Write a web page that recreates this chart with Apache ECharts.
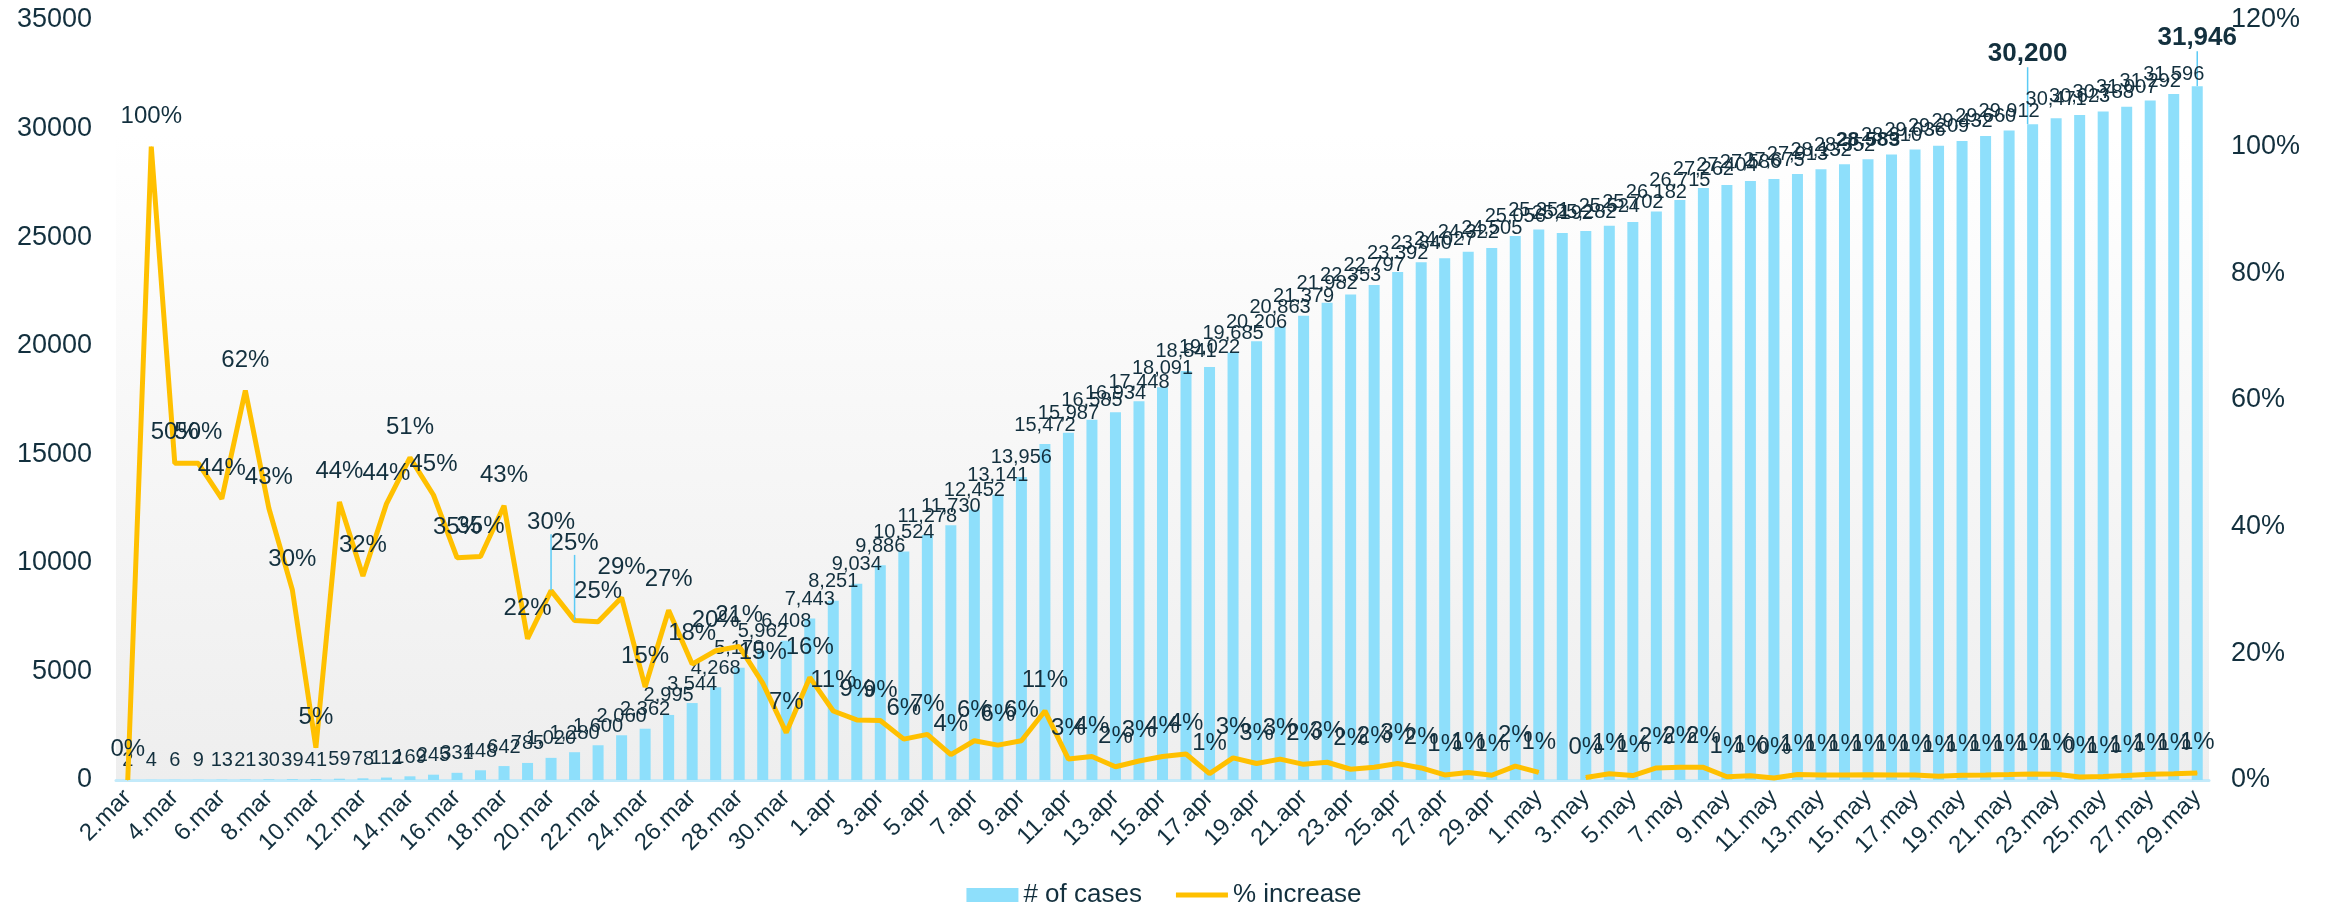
<!DOCTYPE html>
<html>
<head>
<meta charset="utf-8">
<script src="https://cdn.jsdelivr.net/npm/echarts@6/dist/echarts.min.js"></script>
<style>
html,body{margin:0;padding:0;background:#fff;}
#chart{width:2328px;height:913px;}
</style>
</head>
<body>
<div id="chart"></div>
<script>
const dates = [
 '2.mar','3.mar','4.mar','5.mar','6.mar','7.mar','8.mar','9.mar','10.mar','11.mar','12.mar','13.mar','14.mar','15.mar','16.mar','17.mar','18.mar','19.mar','20.mar','21.mar','22.mar','23.mar','24.mar','25.mar','26.mar','27.mar','28.mar','29.mar','30.mar','31.mar',
 '1.apr','2.apr','3.apr','4.apr','5.apr','6.apr','7.apr','8.apr','9.apr','10.apr','11.apr','12.apr','13.apr','14.apr','15.apr','16.apr','17.apr','18.apr','19.apr','20.apr','21.apr','22.apr','23.apr','24.apr','25.apr','26.apr','27.apr','28.apr','29.apr','30.apr',
 '1.may','2.may','3.may','4.may','5.may','6.may','7.may','8.may','9.may','10.may','11.may','12.may','13.may','14.may','15.may','16.may','17.may','18.may','19.may','20.may','21.may','22.may','23.may','24.may','25.may','26.may','27.may','28.may','29.may'
];
const cases = [
 2,4,6,9,13,21,30,39,41,59,78,112,169,245,331,448,642,785,1020,1280,1600,2060,2362,2995,3544,4268,5170,5962,6408,7443,
 8251,9034,9886,10524,11278,11730,12452,13141,13956,15472,15987,16585,16934,17448,18091,18841,19022,19685,20206,20863,21379,21982,22353,22797,23392,23840,24027,24322,24505,25056,
 25351,25192,25282,25524,25702,26182,26715,27262,27404,27586,27675,27913,28132,28352,28583,28810,29036,29209,29432,29660,29912,30200,30471,30623,30788,31007,31292,31596,31946
];
const increase = [
 0,1.0,0.5,0.5,0.444,0.615,0.429,0.300,0.051,0.439,0.322,0.436,0.509,0.450,0.351,0.353,0.433,0.223,0.299,0.252,0.250,0.288,0.147,0.268,0.183,0.204,0.211,0.153,0.0748,0.162,
 0.109,0.0949,0.094,0.0645,0.072,0.040,0.062,0.055,0.062,0.109,0.033,0.037,0.021,0.030,0.037,0.041,0.010,0.0349,0.026,0.033,0.0247,0.028,0.017,0.020,0.026,0.019,0.008,0.012,0.0075,0.022,
 0.012,null,0.004,0.010,0.007,0.019,0.020,0.020,0.0052,0.0066,0.0032,0.0086,0.0078,0.0078,0.0081,0.0079,0.0078,0.0060,0.0076,0.0077,0.0085,0.0096,0.0090,0.0049,0.0054,0.0071,0.0092,0.0097,0.0111
];
const leftTicks = {min:0, max:35000, interval:5000};
const rightTicks = {min:0, max:1.2, interval:0.2};

const textColor = '#13303e';
const leaderColor = '#5ccbf5';
const font = 'Liberation Sans';

const barData = cases.map((v,i)=>{
  if (i===81 || i===88) return {value:v, label:{fontWeight:'bold', fontSize:26}, labelLine:{show:true}};
  if (i===74) return {value:v, label:{fontWeight:'bold', fontSize:21}};
  return v;
});
const lineData = increase.map((v,i)=>{
  if (i===18 || i===19) return {value:v, labelLine:{show:true}};
  return v;
});

const chart = echarts.init(document.getElementById('chart'), null, {renderer:'canvas'});
chart.setOption({
  animation:false,
  backgroundColor:'#ffffff',
  textStyle:{fontFamily:font},
  grid:{
    left:116, right:119, top:20, bottom:133, show:true, borderWidth:0,
    backgroundColor:new echarts.graphic.LinearGradient(0,0,0,1,[
      {offset:0,color:'#ffffff'},{offset:0.15,color:'#ffffff'},{offset:1,color:'#eeeeee'}
    ])
  },
  legend:{
    bottom:0, left:'center', itemWidth:52, itemHeight:14, itemGap:34,
    textStyle:{fontSize:26, color:textColor, fontFamily:font},
    data:[
      {name:'# of cases', icon:'rect'},
      {name:'% increase', icon:'path://M0,0L52,0L52,5L0,5Z'}
    ]
  },
  xAxis:{
    type:'category', data:dates,
    axisTick:{show:false},
    axisLine:{lineStyle:{color:'#c3eafa', width:3}},
    axisLabel:{rotate:45, interval:1, fontSize:24, color:textColor, margin:14, fontFamily:font}
  },
  yAxis:[
    {type:'value', min:leftTicks.min, max:leftTicks.max, interval:leftTicks.interval,
     splitLine:{show:false}, axisLine:{show:false}, axisTick:{show:false},
     axisLabel:{fontSize:27, color:textColor, margin:24, fontFamily:font, formatter:v=>String(v)}},
    {type:'value', min:rightTicks.min, max:rightTicks.max, interval:rightTicks.interval,
     splitLine:{show:false}, axisLine:{show:false}, axisTick:{show:false},
     axisLabel:{fontSize:27, color:textColor, margin:22, fontFamily:font,
       formatter:v=>Math.round(v*100)+'%'}}
  ],
  series:[
    {
      name:'# of cases', type:'bar', data:barData, barWidth:11,
      itemStyle:{color:'#8edffb'},
      label:{show:true, position:'top', distance:9, fontSize:20, color:textColor, fontFamily:font,
        formatter:p=>p.value.toLocaleString('en-US')},
      labelLine:{show:false, lineStyle:{color:leaderColor, width:1.5}},
      labelLayout:function(p){
        if (p.dataIndex===81) return {dx:-5, dy:-48};
        if (p.dataIndex===88) return {dy:-26};
        return {};
      }
    },
    {
      name:'% increase', type:'line', yAxisIndex:1, data:lineData,
      symbol:'circle', symbolSize:1, showSymbol:true,
      lineStyle:{color:'#ffc000', width:5},
      itemStyle:{color:'#ffc000'},
      label:{show:true, position:'top', distance:18, fontSize:24, color:textColor, fontFamily:font,
        formatter:p=>Math.round(p.value*100)+'%'},
      labelLine:{show:false, lineStyle:{color:leaderColor, width:1.5}},
      labelLayout:function(p){
        if (p.dataIndex===18) return {dy:-38};
        if (p.dataIndex===19) return {dy:-47};
        return {};
      },
      z:5
    }
  ]
});
</script>
</body>
</html>
